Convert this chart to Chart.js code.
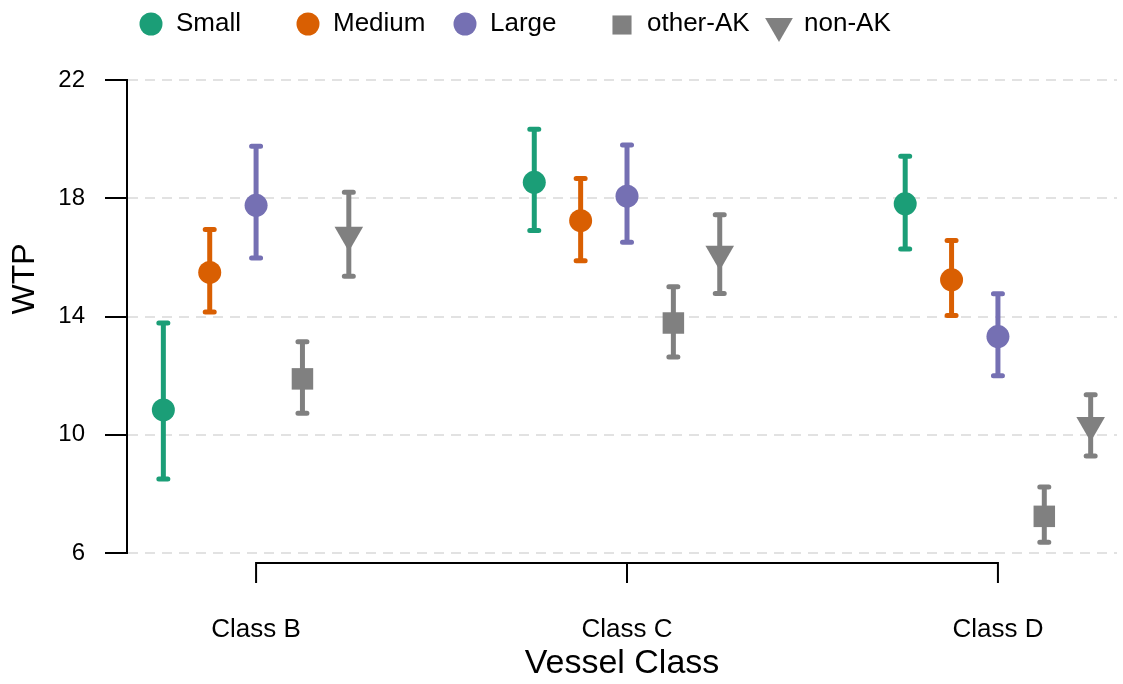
<!DOCTYPE html>
<html>
<head>
<meta charset="utf-8">
<script src="https://cdn.jsdelivr.net/npm/chart.js@4.4.1/dist/chart.umd.min.js"></script>
<style>
  body { margin: 0; background: #fff; }
  #wrap { width: 1123px; height: 684px; }
</style>
</head>
<body>
<div id="wrap"><canvas id="grafico"></canvas></div>
<script>
// datos
const categorias = ["Class B", "Class C", "Class D"];
const grupos = ["Small", "Medium", "Large", "other-AK", "non-AK"];
const ticksY = [6, 10, 14, 18, 22];

const smallMedia = [10.84, 18.54, 17.81];
const smallBajo = [8.50, 16.91, 16.28];
const smallAlto = [13.78, 20.33, 19.42];

const mediumMedia = [15.49, 17.24, 15.24];
const mediumBajo = [14.15, 15.89, 14.03];
const mediumAlto = [16.94, 18.67, 16.57];

const largeMedia = [17.76, 18.07, 13.32];
const largeBajo = [15.98, 16.51, 12.00];
const largeAlto = [19.76, 19.80, 14.77];

const otherMedia = [11.89, 13.78, 7.24];
const otherBajo = [10.73, 12.63, 6.36];
const otherAlto = [13.15, 15.01, 8.23];

const nonMedia = [16.76, 16.11, 10.32];
const nonBajo = [15.36, 14.78, 9.28];
const nonAlto = [18.20, 17.44, 11.35];

// estilo
const colores = ["#1b9e77", "#d95f02", "#7570b3", "#808080", "#808080"];
const desplazamiento = [-0.25, -0.125, 0, 0.125, 0.25];
const FUENTE = "'Liberation Sans', Arial, sans-serif";
Chart.defaults.font.family = FUENTE;
Chart.defaults.color = "#000";

const medias = [smallMedia, mediumMedia, largeMedia, otherMedia, nonMedia];
const bajos = [smallBajo, mediumBajo, largeBajo, otherBajo, nonBajo];
const altos = [smallAlto, mediumAlto, largeAlto, otherAlto, nonAlto];
const formas = [
    { pointStyle: "circle", radius: 11.5, rotation: 0 },
    { pointStyle: "circle", radius: 11.5, rotation: 0 },
    { pointStyle: "circle", radius: 11.5, rotation: 0 },
    { pointStyle: "rect", radius: 15.2, rotation: 0 },
    { pointStyle: "triangle", radius: 16.5, rotation: 180 },
];

const datasets = grupos.map((g, k) => ({
    label: g,
    data: medias[k].map((v, i) => ({ x: i + desplazamiento[k], y: v })),
    bajo: bajos[k],
    alto: altos[k],
    backgroundColor: colores[k],
    borderColor: colores[k],
    pointStyle: formas[k].pointStyle,
    pointRadius: formas[k].radius,
    pointRotation: formas[k].rotation,
    pointBorderWidth: 0,
}));

// barras de error, debajo de los puntos
const barrasError = {
    id: "barrasError",
    beforeDatasetsDraw(chart) {
        const { ctx } = chart;
        const y = chart.scales.y;
        chart.data.datasets.forEach((ds, k) => {
            const meta = chart.getDatasetMeta(k);
            meta.data.forEach((el, i) => {
                const yA = y.getPixelForValue(ds.alto[i]);
                const yB = y.getPixelForValue(ds.bajo[i]);
                ctx.save();
                ctx.strokeStyle = ds.borderColor;
                ctx.lineWidth = 5;
                ctx.lineCap = "butt";
                ctx.beginPath();
                ctx.moveTo(el.x, yA);
                ctx.lineTo(el.x, yB);
                ctx.stroke();
                ctx.lineCap = "round";
                ctx.beginPath();
                ctx.moveTo(el.x - 4.5, yA);
                ctx.lineTo(el.x + 4.5, yA);
                ctx.moveTo(el.x - 4.5, yB);
                ctx.lineTo(el.x + 4.5, yB);
                ctx.stroke();
                ctx.restore();
            });
        });
    },
};

// eje x tipo corchete, titulo WTP y leyenda
const decoracion = {
    id: "decoracion",
    afterDraw(chart) {
        const { ctx } = chart;
        const x = chart.scales.x;
        const xa = x.getPixelForValue(0);
        const xb = x.getPixelForValue(categorias.length - 1);
        const yc = chart.chartArea.bottom + 10;
        ctx.save();
        ctx.strokeStyle = "#000";
        ctx.lineWidth = 2;
        ctx.beginPath();
        ctx.moveTo(xa, yc);
        ctx.lineTo(xb, yc);
        categorias.forEach((c, i) => {
            const px = x.getPixelForValue(i);
            ctx.moveTo(px, yc - 1);
            ctx.lineTo(px, yc + 20);
        });
        ctx.stroke();

        ctx.fillStyle = "#000";
        ctx.font = "32px " + FUENTE;
        ctx.textAlign = "center";
        ctx.textBaseline = "middle";
        ctx.translate(25, 279);
        ctx.rotate(-Math.PI / 2);
        ctx.fillText("WTP", 0, 0);
        ctx.restore();

        // leyenda horizontal con columnas fijas
        ctx.save();
        ctx.font = "26px " + FUENTE;
        ctx.textBaseline = "middle";
        ctx.textAlign = "left";
        const tamLeyenda = [11.5, 11.5, 11.5, 13.5, 16];
        const dyLeyenda = [0, 0, 0, 1, 2];
        chart.data.datasets.forEach((ds, k) => {
            const cx = 151 + k * 157;
            ctx.fillStyle = ds.backgroundColor;
            Chart.helpers.drawPoint(ctx, {
                pointStyle: ds.pointStyle,
                rotation: ds.pointRotation,
                radius: tamLeyenda[k],
                borderWidth: 0,
            }, cx, 24 + dyLeyenda[k]);
            ctx.fillStyle = "#000";
            ctx.fillText(ds.label, cx + 25, 24);
        });
        ctx.restore();
    },
};

new Chart(document.getElementById("grafico"), {
    type: "scatter",
    data: { datasets },
    plugins: [barrasError, decoracion],
    options: {
        responsive: true,
        maintainAspectRatio: false,
        animation: false,
        events: [],
        layout: { autoPadding: false, padding: { top: 80, right: 6, bottom: 0, left: 0 } },
        plugins: { legend: { display: false }, tooltip: { enabled: false } },
        scales: {
            x: {
                type: "linear",
                min: -0.348,
                max: 2.321,
                afterBuildTicks: (s) => { s.ticks = categorias.map((c, i) => ({ value: i })); },
                afterFit: (s) => { s.height = 131; },
                ticks: {
                    autoSkip: false,
                    maxRotation: 0,
                    padding: 0,
                    font: { size: 26 },
                    callback: (v) => categorias[v],
                },
                // la marca no se dibuja, solo baja las etiquetas
                grid: { display: false, drawTicks: true, tickLength: 61 },
                border: { display: false },
                title: { display: true, text: "Vessel Class", font: { size: 34 }, padding: 0 },
            },
            y: {
                min: 6,
                max: 22,
                afterBuildTicks: (s) => { s.ticks = ticksY.map((v) => ({ value: v })); },
                afterFit: (s) => { s.width = 127; },
                ticks: { padding: 20, font: { size: 24 } },
                grid: {
                    color: "#e2e2e2",
                    lineWidth: 2,
                    tickColor: "#000",
                    tickWidth: 2,
                    tickLength: 22,
                },
                border: { display: true, color: "#000", width: 2, dash: [10, 7] },
            },
        },
    },
});
</script>
</body>
</html>
